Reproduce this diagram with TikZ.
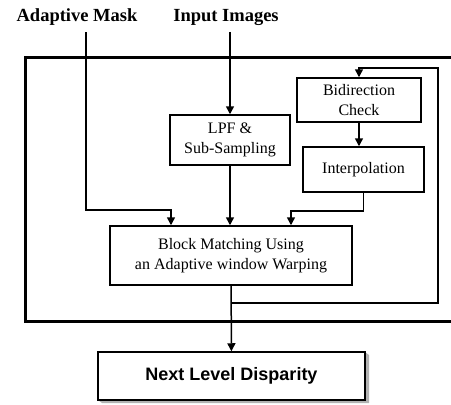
\documentclass[tikz,border=0pt]{standalone}
\usepackage{fontspec}
\setmainfont{Liberation Serif}
\setsansfont{Liberation Sans}
\usetikzlibrary{arrows.meta}

\begin{document}
\begin{tikzpicture}[x=1pt,y=-1pt,->,>={Triangle[width=8pt,length=8pt]},line width=1.5pt,
proc node/.style={draw,rectangle,inner sep=0pt,align=center,font=\fontsize{16}{20}\selectfont},
label node/.style={inner sep=6pt,font=\fontsize{18.5}{20}\selectfont\bfseries},
disp node/.style={draw,rectangle,inner sep=0pt,minimum width=267pt,minimum height=48pt,
  font=\fontsize{18}{20}\selectfont\sffamily\bfseries}]
\useasboundingbox (0,0) rectangle (451,405);

% outer frame, open on the right
\draw[-,line width=3pt] (451,57) -| (25,321) -- (451,321);

\node[label node] (mask) at (77,17) {Adaptive Mask};
\node[label node] (input) at (226,17) {Input Images};

\node[proc node,minimum width=120pt,minimum height=50pt] (lpf) at (230,140) {LPF \&\\Sub-Sampling};
\node[proc node,minimum width=124pt,minimum height=44pt] (bidir) at (359,100) {Bidirection\\Check};
\node[proc node,minimum width=121pt,minimum height=45pt] (interp) at (363.5,169.5) {Interpolation};
\node[proc node,minimum width=242pt,minimum height=59pt] (block) at (231,255.5) {Block Matching Using\\an Adaptive window Warping};

% next level box with its shaded edge
\fill[gray!60] (231.5,352) ++(133.5,0) -- ++(4,3) -- ++(0,48) -- ++(-267,0) -- ++(-4,-3) -- ++(267,0) -- cycle;
\node[disp node,fill=white] (next) at (231.5,376) {Next Level Disparity};

\coordinate (fb) at (231,303);
\coordinate (fbr) at (438,68);

\draw ([xshift=9pt]mask.south) -- ([xshift=9pt]mask.south |- 0,210) -| ([xshift=-60pt]block.north);
\draw (lpf |- input.south) -- (lpf);
\draw (lpf) -- (lpf |- block.north);
\draw (bidir) -- (bidir |- interp.north);
\draw (interp.south) -- ++(0,18) -| ([xshift=60pt]block.north);
\draw (block) -- (next);
\draw (fb) -| (fbr) -| (bidir);
\end{tikzpicture}
\end{document}
